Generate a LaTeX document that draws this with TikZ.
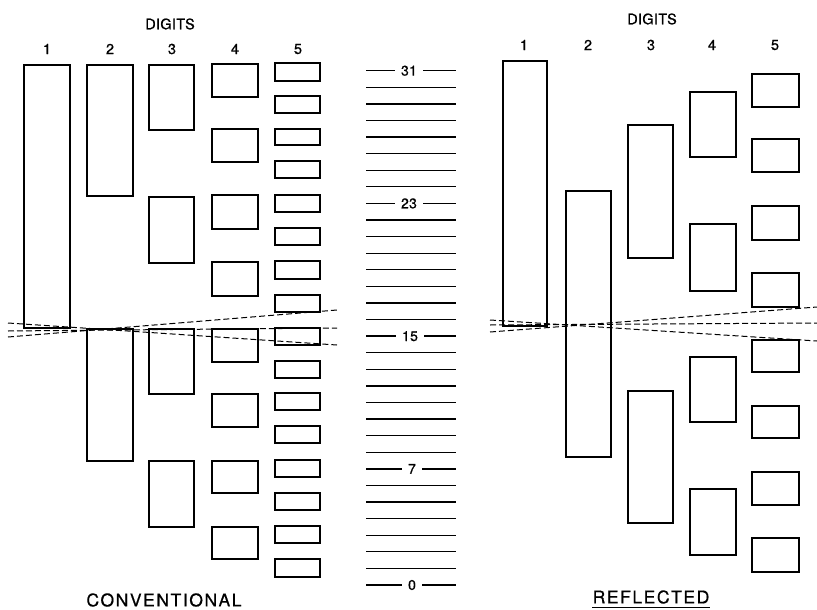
\documentclass[tikz,border=0pt]{standalone}
\usepackage{fontspec}
\setmainfont{TeX Gyre Heros}
\newfontfamily\labfont[LetterSpace=2,FakeBold=0.8]{TeX Gyre Heros}
\newfontfamily\bigfont[LetterSpace=9,FakeBold=0.6]{TeX Gyre Heros}
\newcommand\gbox[5]{\node[bx,minimum width={#4-#2},minimum height={#5-#3}] (#1) at ({(#2+#4)/2},{(#3+#5)/2}) {};}
\tikzset{
  bx/.style={draw,line width=1.5pt,inner sep=0pt,outer sep=0pt},
  lab/.style={font=\labfont\fontsize{14.5}{16}\selectfont,inner sep=0pt},
  num/.style={font=\labfont\fontsize{14}{16}\selectfont,inner xsep=6pt,inner ysep=0pt},
  ttl/.style={font=\bigfont\fontsize{17.5}{20}\selectfont,inner sep=0pt},
  tick/.style={line width=1.3pt},
  dsh/.style={line width=1pt,dash pattern=on 6pt off 3pt}
}
\begin{document}
\begin{tikzpicture}[x=1pt,y=-1pt]
\useasboundingbox (0,0) rectangle (817,610);
% ---------------- left: conventional ----------------
\node[lab] (dgL) at (170,24) {DIGITS};
\node[lab] (l1) at (47,49) {1};
\node[lab] (l2) at (110,49) {2};
\node[lab] (l3) at (172,49) {3};
\node[lab] (l4) at (235,49) {4};
\node[lab] (l5) at (298,49) {5};
\gbox{La1}{24}{65}{70}{328}
\gbox{Lb1}{87}{65}{133}{196}
\gbox{Lb2}{87}{329}{133}{461}
\gbox{Lc1}{149}{65}{194}{130}
\gbox{Lc2}{149}{197}{194}{263}
\gbox{Lc3}{149}{329}{194}{394}
\gbox{Lc4}{149}{461}{194}{527}
\gbox{Ld1}{212}{64}{258}{97}
\gbox{Ld2}{212}{129}{258}{162}
\gbox{Ld3}{212}{195}{258}{229}
\gbox{Ld4}{212}{262}{258}{296}
\gbox{Ld5}{212}{329}{258}{362}
\gbox{Ld6}{212}{394}{258}{427}
\gbox{Ld7}{212}{461}{258}{493}
\gbox{Ld8}{212}{527}{258}{559}
\gbox{Le1}{275}{63}{320}{81}
\gbox{Le2}{275}{96}{320}{113}
\gbox{Le3}{275}{129}{320}{145}
\gbox{Le4}{275}{161}{320}{178}
\gbox{Le5}{275}{195}{320}{212}
\gbox{Le6}{275}{228}{320}{245}
\gbox{Le7}{275}{261}{320}{279}
\gbox{Le8}{275}{295}{320}{312}
\gbox{Le9}{275}{328}{320}{345}
\gbox{Le10}{275}{361}{320}{378}
\gbox{Le11}{275}{393}{320}{410}
\gbox{Le12}{275}{426}{320}{443}
\gbox{Le13}{275}{460}{320}{477}
\gbox{Le14}{275}{493}{320}{510}
\gbox{Le15}{275}{526}{320}{543}
\gbox{Le16}{275}{559}{320}{577}
\coordinate (lA1) at (8,323);  \coordinate (lA2) at (337,345);
\coordinate (lB1) at (8,331);  \coordinate (lB2) at (337,328);
\coordinate (lC1) at (8,337);  \coordinate (lC2) at (337,310);
\draw[dsh] (lA1) -- (lA2);
\draw[dsh] (lB1) -- (lB2);
\draw[dsh] (lC1) -- (lC2);
\node[ttl] (conv) at (164,600) {CONVENTIONAL};
% ---------------- middle scale ----------------
\foreach \k in {1,...,6,8,9,...,14,16,17,...,22,24,25,...,30}
  \draw[tick] (366,{70.7+(31-\k)*16.59}) -- (456,{70.7+(31-\k)*16.59});
\foreach \k/\x in {31/409,23/409,15/410,7/412,0/412}{
  \node[num] (s\k) at (\x,{70.7+(31-\k)*16.59}) {\k};
  \draw[tick] (366,{70.7+(31-\k)*16.59}) -- (s\k.west);
  \draw[tick] (s\k.east) -- (456,{70.7+(31-\k)*16.59});
}
% ---------------- right: reflected ----------------
\node[lab] (dgR) at (652,19) {DIGITS};
\node[lab] (r1) at (524,45) {1};
\node[lab] (r2) at (588,45) {2};
\node[lab] (r3) at (651,45) {3};
\node[lab] (r4) at (712,45) {4};
\node[lab] (r5) at (775,45) {5};
\gbox{Ra1}{503}{61}{547}{326}
\gbox{Rb1}{566}{191}{611}{457}
\gbox{Rc1}{628}{125}{673}{258}
\gbox{Rc2}{628}{391}{673}{523}
\gbox{Rd1}{690}{92}{736}{157}
\gbox{Rd2}{690}{224}{736}{291}
\gbox{Rd3}{690}{357}{736}{422}
\gbox{Rd4}{690}{489}{736}{555}
\gbox{Re1}{752}{74}{799}{107}
\gbox{Re2}{752}{139}{799}{172}
\gbox{Re3}{752}{206}{799}{240}
\gbox{Re4}{752}{273}{799}{307}
\gbox{Re5}{752}{340}{799}{372}
\gbox{Re6}{752}{406}{799}{438}
\gbox{Re7}{752}{472}{799}{505}
\gbox{Re8}{752}{538}{799}{572}
\coordinate (rA1) at (490,320); \coordinate (rA2) at (817,341);
\coordinate (rB1) at (490,325); \coordinate (rB2) at (817,323);
\coordinate (rC1) at (490,332); \coordinate (rC2) at (817,307);
\draw[dsh] (rA1) -- (rA2);
\draw[dsh] (rB1) -- (rB2);
\draw[dsh] (rC1) -- (rC2);
\node[ttl] (refl) at (651,597) {REFLECTED};
\draw[line width=1pt] (refl.south west) ++(0,3.5) coordinate (u1) -- (refl.south east |- u1) coordinate (u2);
\end{tikzpicture}
\end{document}
